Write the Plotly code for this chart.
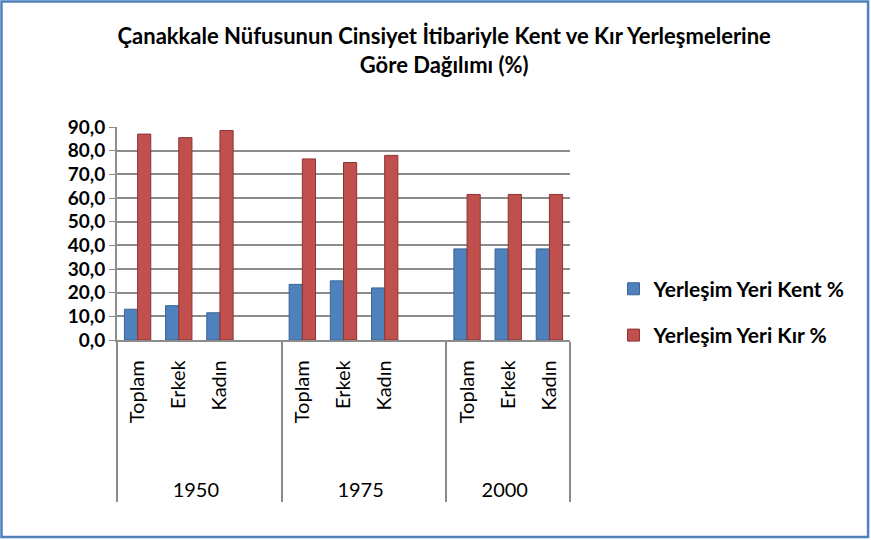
import plotly.graph_objects as go

# category structure (blank slot after each of the first two year groups, as in the source)
years = ["1950", "1950", "1950", "1950",
         "1975", "1975", "1975", "1975",
         "2000", "2000", "2000"]
groups = ["Toplam", "Erkek", "Kadın", "",
          "Toplam", "Erkek", "Kadın", "",
          "Toplam", "Erkek", "Kadın"]

kent = [13.0, 14.5, 11.5, None, 23.5, 25.0, 22.0, None, 38.5, 38.5, 38.5]
kir = [87.0, 85.5, 88.5, None, 76.5, 75.0, 78.0, None, 61.5, 61.5, 61.5]

FONT = "Lato, 'Open Sans', sans-serif"
GRID = "#8c8c8c"
NB = "\u00a0"

# pad the rotated labels so they sit away from the axis and push the year row down
inner = [NB * 7 + g + NB * 2 if g else NB * 3 for g in groups]

fig = go.Figure()

fig.add_trace(
    go.Bar(
        x=[years, inner],
        y=kent,
        name="Yerleşim Yeri Kent %",
        legendgroup="kent",
        marker=dict(color="#4F81BD", line=dict(color="#3a6596", width=1)),
    )
)
fig.add_trace(
    go.Bar(
        x=[years, inner],
        y=kir,
        name="Yerleşim Yeri Kır %",
        legendgroup="kir",
        marker=dict(color="#C0504D", line=dict(color="#8f3330", width=1)),
    )
)

fig.update_layout(
    width=871,
    height=540,
    paper_bgcolor="white",
    plot_bgcolor="white",
    separators=",.",
    font=dict(family=FONT, color="black"),
    title=dict(
        text="Çanakkale Nüfusunun Cinsiyet İtibariyle Kent ve Kır Yerleşmelerine<br>Göre Dağılımı (%)",
        x=0.51,
        xanchor="center",
        y=0.918,
        yanchor="top",
        font=dict(size=22, family=FONT, weight="bold"),
    ),
    barmode="group",
    bargap=0.36,
    bargroupgap=0.0,
    margin=dict(l=117, r=301, t=127, b=200, autoexpand=False),
    legend=dict(
        x=1.096,
        y=0.335,
        xanchor="left",
        yanchor="top",
        font=dict(size=21, family=FONT, weight="bold"),
        tracegroupgap=16,
        itemwidth=30,
    ),
    showlegend=True,
)

fig.update_yaxes(
    range=[0, 90],
    dtick=10,
    tickformat=".1f",
    showgrid=True,
    gridcolor=GRID,
    gridwidth=2,
    showline=True,
    linecolor=GRID,
    linewidth=2,
    ticks="outside",
    ticklen=6,
    tickcolor=GRID,
    tickfont=dict(size=19, family=FONT, weight="bold"),
    zeroline=False,
)

fig.update_xaxes(
    type="multicategory",
    showline=True,
    linecolor=GRID,
    linewidth=2,
    showdividers=True,
    dividercolor=GRID,
    dividerwidth=2,
    tickangle=-90,
    tickfont=dict(size=20, family=FONT),
)

# outer chart frame
fig.add_shape(
    type="rect",
    xref="paper", yref="paper",
    x0=-0.255, x1=1.658, y0=-0.925, y1=1.589,
    line=dict(color="#4F81BD", width=2.5),
)

fig.write_html(
    "out.html",
    config={"displayModeBar": False},
    post_script="document.body.style.margin='0';",
)
